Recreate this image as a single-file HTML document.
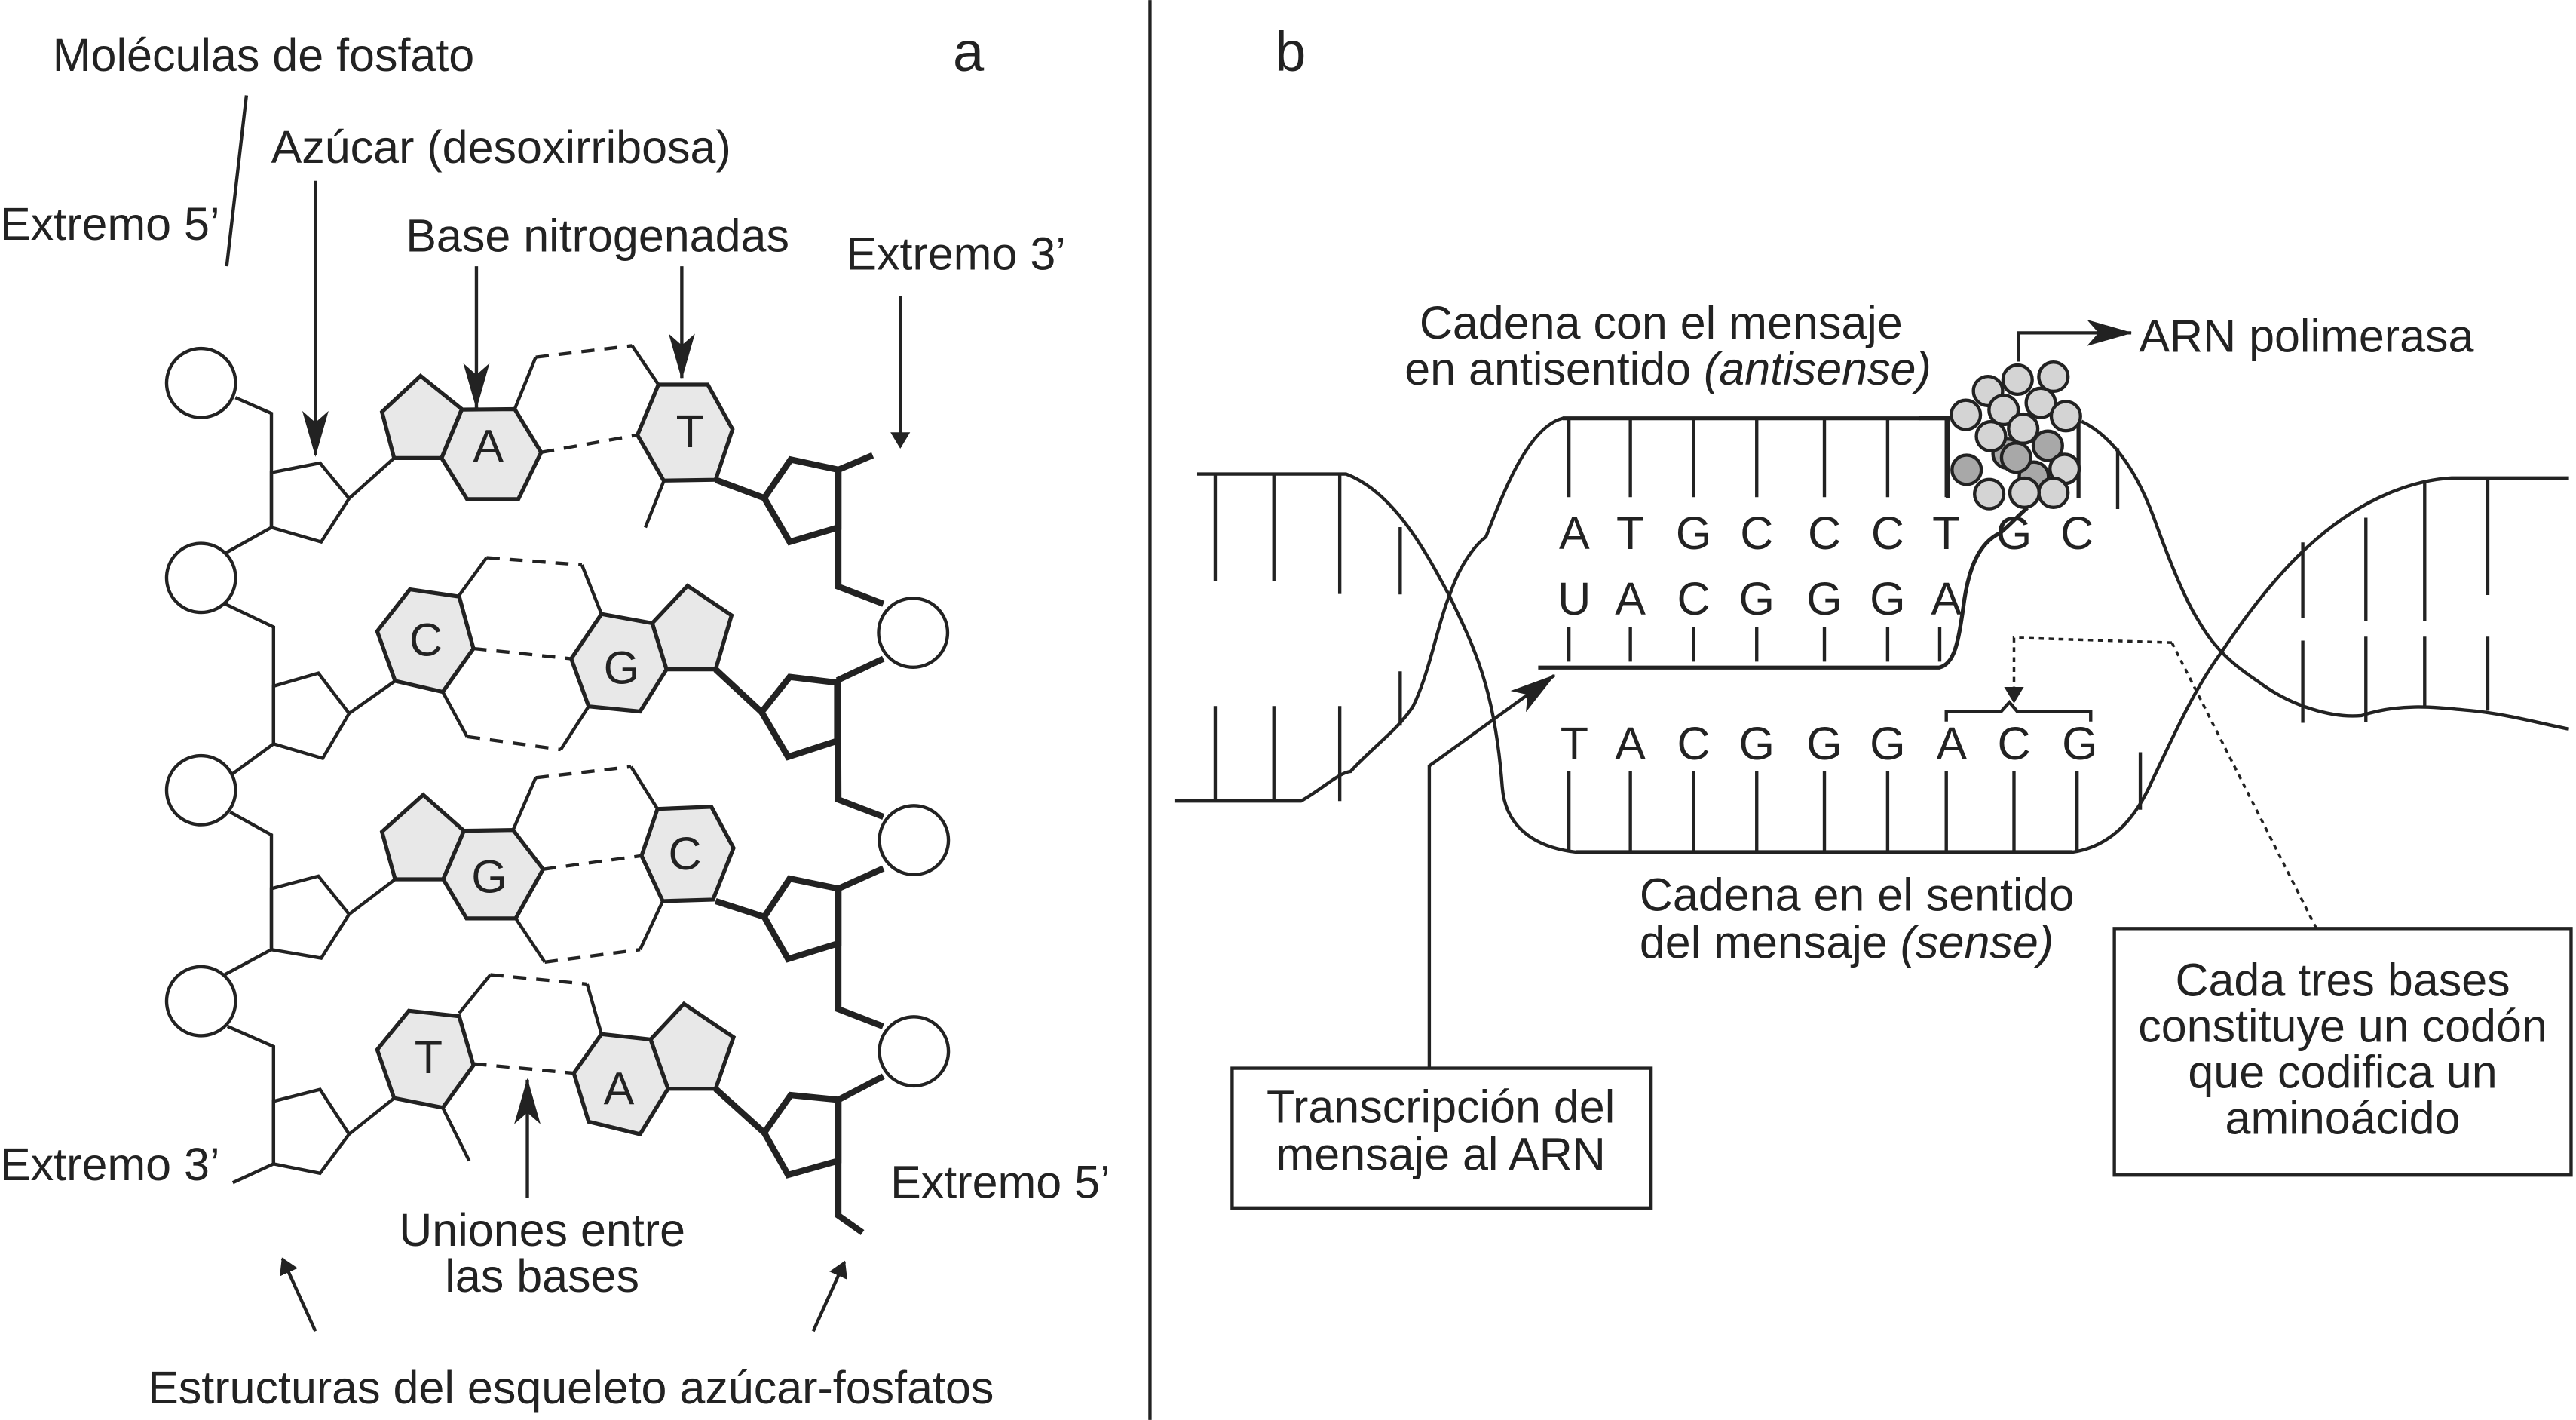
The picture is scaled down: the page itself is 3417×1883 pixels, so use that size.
<!DOCTYPE html>
<html><head><meta charset="utf-8"><style>
html,body{margin:0;padding:0;background:#fff;}
svg{display:block;}
text{font-family:"Liberation Sans",Arial,sans-serif;font-size:28px;fill:#222;}
</style></head><body>
<svg width="3417" height="1883" viewBox="0 0 1568 864" xmlns="http://www.w3.org/2000/svg">
<defs>
<marker id="ah" markerWidth="10" markerHeight="12" refX="9" refY="6" orient="auto" markerUnits="userSpaceOnUse" viewBox="0 0 10 12"><path d="M0,0 L10,6 L0,12 z" fill="#222"/></marker>
<marker id="ahb" markerWidth="28" markerHeight="16" refX="27" refY="8" orient="auto" markerUnits="userSpaceOnUse" viewBox="0 0 28 16"><path d="M0,0 L28,8 L0,16 L7,8 z" fill="#222"/></marker>
</defs>
<g stroke="#222" stroke-width="2" fill="none">
<line x1="700" y1="0" x2="700" y2="864"/>
<line x1="150" y1="58" x2="138" y2="162"/>
<line x1="192" y1="110" x2="192" y2="277" marker-end="url(#ahb)"/>
<line x1="290" y1="162" x2="290" y2="248" marker-end="url(#ahb)"/>
<line x1="415" y1="162" x2="415" y2="230" marker-end="url(#ahb)"/>
<line x1="548" y1="180" x2="548" y2="272" marker-end="url(#ah)"/>
<line x1="321" y1="729" x2="321" y2="657" marker-end="url(#ahb)"/>
<line x1="192" y1="810" x2="172" y2="766" marker-end="url(#ah)"/>
<line x1="495" y1="810" x2="514" y2="768" marker-end="url(#ah)"/>
<path d="M143.3,241.9 L165.2,251.5 L165.2,320.9 L136.9,336.7 M136.9,367.4 L166.5,381.5 L166.5,452.6 L140,472 M140.1,494.1 L165.2,508 L165.2,577.8 L136.9,593 M138.5,624.5 L166.5,636.8 L166.5,708.2 L141.7,719.6"/>
<path d="M212.5,303.3 L239.9,278.7 M212.5,434.1 L240.5,414.3 M212.5,556.3 L240.5,535 M212.5,690.1 L239.9,668.2"/>
<polygon points="165.2,287.5 194.8,281.7 212.5,303.3 195.5,329.7 165.2,320.9"/>
<polygon points="166.5,417.5 193.8,409.6 212.5,434.1 196.4,461.4 166.5,452.6"/>
<polygon points="165.2,540.7 193.8,533.1 212.5,556.3 195.5,583 165.2,577.8"/>
<polygon points="166.5,670.1 194.8,662.9 212.5,690.1 194.8,713.9 166.5,708.2"/>
<g stroke-width="3.8">
<path d="M510.3,285.8 L531.2,277 M510.3,285.8 L510.3,356.9 L537.7,367.4 M509.6,414 L537.7,400.8 M510,415 L510.3,486.5 L537.7,497 M510.3,540.7 L537.7,528.4 M510.3,540.7 L510.3,614 L537.5,624.5 M537.7,654.9 L510.3,669.2 L510.3,739.6 L525,750"/>
<path d="M435.6,291.9 L465.2,303 M435.6,407.3 L463.6,433.3 M435.6,548.3 L465.2,557.9 M435.6,662.5 L465.2,689.2"/>
<polygon points="465.2,303 481.3,279.6 510.3,285.8 510.3,320.9 480.7,329.7"/>
<polygon points="463.6,433.3 480.7,411.9 509.6,415.4 509.6,450.8 479.7,460.5"/>
<polygon points="465.2,557.9 480.7,534.6 510.3,540.7 510.3,574 479.7,583.5"/>
<polygon points="465.2,689.2 481.3,666.3 510.3,669.2 510.3,706.3 479.7,714.9"/>
</g>
<path d="M404,292.8 L392.8,320.9 M269.5,674 L285.6,706.3"/>
</g>
<g stroke="#222" stroke-width="2" fill="#fff">
<circle cx="122.4" cy="233" r="21"/><circle cx="122.4" cy="351.6" r="21"/><circle cx="122.4" cy="480.8" r="21"/><circle cx="122.4" cy="609.2" r="21"/>
<circle cx="555.8" cy="385" r="21"/><circle cx="556.3" cy="511.2" r="21"/><circle cx="556.3" cy="639.7" r="21"/>
</g>
<g stroke="#222" stroke-width="2.4" fill="#e8e8e8">
<polygon points="239.9,278.7 232.5,250.6 256,228.7 281.1,248.9 268.8,278.7"/>
<polygon points="281.1,249.2 313.3,248.9 329.4,275.2 315.5,303.7 284.3,303.7 268.8,278.7"/>
<polygon points="400.8,234 430.8,234 445.9,261.2 435.6,291.9 404,292.4 388,264.7"/>
<polygon points="240.5,414.3 229.6,384.1 249.5,358.6 279.5,363 288.2,394.6 269.5,421"/>
<polygon points="397,379.2 418.5,356.4 445.3,374.4 435.6,407.3 405.7,407.3"/>
<polygon points="366.1,373.6 397,379.2 405.7,407.3 389.6,432.9 358.3,429.8 347.7,400.8"/>
<polygon points="240.5,535 232.5,506.1 257.6,483.6 282.4,505.5 269.8,535"/>
<polygon points="282.4,505.5 312.3,505 330.6,528.9 313.9,558.8 284,558.8 269.8,535"/>
<polygon points="400.2,492.2 433,490.9 446.5,516 434,547.4 403.4,548.3 390.5,520.7"/>
<polygon points="406.6,662.5 396,632.5 416.3,610.8 446.5,631.1 435.6,662.5"/>
<polygon points="366.1,629.2 396,632.5 406.6,662.5 389.6,690.1 358.3,682.5 349.3,653"/>
<polygon points="248.9,615 279.5,618.4 288.2,648.2 269.5,674 239.9,668.2 229.6,638.7"/>
</g>
<g stroke="#222" stroke-width="2" fill="none">
<path d="M313.3,248.9 L326.1,217.3 M384.7,210.3 L400.8,234"/><path d="M326.1,217.3 L384.7,210.3 M329.4,275.2 L388,264.7" stroke-dasharray="8,6"/>
<path d="M279.5,362.2 L296.2,339.3 M354.2,343.7 L366.1,373.6 M269.5,421 L284.3,448.2 M341.3,456.1 L358.3,429.8"/>
<path d="M296.2,339.3 L354.2,343.7 M288.2,394.6 L347.7,400.8 M284.3,448.2 L341.3,456.1" stroke-dasharray="8,6"/>
<path d="M312.3,505 L326.1,473.2 M384.1,466.5 L400.2,492.2 M313.9,558.8 L331.6,585.4 M389.6,577.8 L403.4,548.3"/>
<path d="M326.1,473.2 L384.1,466.5 M330.6,528.9 L390.5,520.7 M331.6,585.4 L389.6,577.8" stroke-dasharray="8,6"/>
<path d="M279.5,616.5 L298.5,593.1 M357.4,598.8 L366.1,629.2"/>
<path d="M298.5,593.1 L357.4,598.8 M288.2,647.3 L349.3,653" stroke-dasharray="8,6"/>
</g>
<g text-anchor="middle" style="font-size:26px">
<text x="297.2" y="281">A</text><text x="420" y="272">T</text><text x="259.2" y="399">C</text><text x="378.3" y="416">G</text><text x="297.8" y="543">G</text><text x="416.9" y="529">C</text><text x="260.8" y="653">T</text><text x="376.7" y="672">A</text>
</g>
<text x="32" y="43">Moléculas de fosfato</text>
<text x="580" y="43" style="font-size:34px">a</text>
<text x="776" y="43" style="font-size:34px">b</text>
<text x="165" y="99">Azúcar (desoxirribosa)</text>
<text x="0" y="146">Extremo 5’</text>
<text x="247" y="153">Base nitrogenadas</text>
<text x="515" y="164">Extremo 3’</text>
<text x="0" y="718">Extremo 3’</text>
<text x="542" y="729">Extremo 5’</text>
<text x="330" y="758" text-anchor="middle">Uniones entre</text>
<text x="330" y="786" text-anchor="middle">las bases</text>
<text x="90" y="854">Estructuras del esqueleto azúcar-fosfatos</text>
<g stroke="#222" stroke-width="2" fill="none">
<path d="M728.7,288.4 L819.3,288.4 C850,300 870,340 882,362 C898,395 910,420 914.4,478.7 C916,500 930,515 959.4,518.5 L1261.6,518.5 C1285,515 1300,498 1310,475 C1322,450 1335,420 1352.2,396.8 C1370,370 1390,345 1410,328 C1440,302 1470,292 1492.3,290.8 L1563.7,290.8"/>
<path d="M714.9,487.4 L791.9,487.4 C805,480 815,470 822.1,469.4 C835,455 850,445 860,430 C870,410 875,380 882.5,361.7 C890,340 900,330 904.5,326.6 C915,300 930,260 951.2,254.5 L1187,254.5"/>
<path d="M1267,256.3 C1285,265 1300,285 1311,314.9 C1320,340 1330,365 1338.5,378.1 C1348,395 1360,405 1375,415 C1395,430 1420,437 1437.4,435.4 C1460,428 1480,430 1500,432 C1525,434 1545,440 1563.7,443.6"/>
<path d="M739.7,288.4 v65 M775.4,288.4 v65 M815.5,288.4 v73 M852.3,320.7 v41 M739.7,429.6 v57.8 M775.4,429.6 v57.8 M815.5,429.6 v57.8 M852.3,408.5 v33"/>
<path d="M955,254.5 v48 M992.4,254.5 v48 M1030.9,254.5 v48 M1069.3,254.5 v48 M1110.5,254.5 v48 M1149,254.5 v48 M1184.7,254.5 v48 M1289,272.7 v37"/>
<path d="M955,381.6 v21 M992.4,381.6 v21 M1030.9,381.6 v21 M1069.3,381.6 v21 M1110.5,381.6 v21 M1149,381.6 v21 M1180.7,381.6 v21"/>
<path d="M955,469.4 v49 M992.4,469.4 v49 M1030.9,469.4 v49 M1069.3,469.4 v49 M1110.5,469.4 v49 M1149,469.4 v49 M1184.7,469.4 v49 M1225.9,469.4 v49 M1264.3,469.4 v49 M1302.8,457.7 v35"/>
<path d="M1401.7,330 v46 M1440.1,315 v63 M1475.9,292.6 v85 M1514.3,291 v71 M1401.7,389.8 v50 M1440.1,387.4 v52 M1475.9,387.4 v42 M1514.3,387.4 v45"/>
<path d="M936.3,406.2 L1180.3,406.2 C1190,404 1192,390 1195,370 C1198,345 1205,330 1217.6,324.2 C1225,318 1230,312 1234.1,309" stroke-width="2.4"/>
<path d="M951.2,254.5 L1187,254.5" stroke-width="2.4"/>
<path d="M959.4,518.5 L1261.6,518.5" stroke-width="2.4"/>
<path d="M1184.7,439 L1184.7,433 L1218,433 L1223.1,427.3 L1228,433 L1272.6,433 L1272.6,439"/>
<path d="M1228.6,220 L1228.6,202.5 L1297.3,202.5" marker-end="url(#ahb)"/>
<path d="M870,650 L870,466 L946,411" marker-end="url(#ahb)"/>
<path d="M1322,391 L1225.9,388 L1225.9,427" stroke-dasharray="3,3" stroke-width="1.6" marker-end="url(#ah)"/>
<path d="M1322,391 L1410,565" stroke-dasharray="3,3" stroke-width="1.6"/>
<rect x="750" y="650" width="255" height="85"/>
<rect x="1287" y="565" width="278" height="150"/>
<path d="M1168,254.4 L1187,254.4 M1185.6,254.7 V302.9 M1265.2,257 V302.9" stroke-width="2.4"/>
</g>
<g stroke="#222" stroke-width="2">
<circle cx="1222" cy="276" r="8.9" fill="#a8a8a8"/><circle cx="1238" cy="290" r="8.9" fill="#a8a8a8"/>
<circle cx="1228.1" cy="231" r="8.9" fill="#d4d4d4"/><circle cx="1249.9" cy="229.2" r="8.9" fill="#d4d4d4"/><circle cx="1210.1" cy="237.9" r="8.9" fill="#d4d4d4"/><circle cx="1242.2" cy="245.1" r="8.9" fill="#d4d4d4"/><circle cx="1219.6" cy="249.4" r="8.9" fill="#d4d4d4"/><circle cx="1196.6" cy="252.4" r="8.9" fill="#d4d4d4"/><circle cx="1257.5" cy="253.2" r="8.9" fill="#d4d4d4"/><circle cx="1231.5" cy="260.8" r="8.9" fill="#d4d4d4"/><circle cx="1211.9" cy="265.4" r="8.9" fill="#d4d4d4"/>
<circle cx="1246.5" cy="271.2" r="8.9" fill="#a8a8a8"/><circle cx="1227.2" cy="278.4" r="8.9" fill="#a8a8a8"/><circle cx="1197.1" cy="285.8" r="8.9" fill="#a8a8a8"/><circle cx="1256.7" cy="285.3" r="8.9" fill="#d4d4d4"/>
<circle cx="1249.9" cy="299.8" r="8.9" fill="#d4d4d4"/><circle cx="1210.8" cy="300.6" r="8.9" fill="#d4d4d4"/><circle cx="1232.3" cy="299.8" r="8.9" fill="#d4d4d4"/>
</g>
<g text-anchor="middle" style="font-size:26px">
<text x="958.3" y="334">A</text><text x="992.4" y="334">T</text><text x="1030.9" y="334">G</text><text x="1069.3" y="334">C</text><text x="1110.5" y="334">C</text><text x="1149" y="334">C</text><text x="1184.7" y="334">T</text><text x="1225.9" y="334">G</text><text x="1264.3" y="334">C</text>
<text x="958.3" y="374">U</text><text x="992.4" y="374">A</text><text x="1030.9" y="374">C</text><text x="1069.3" y="374">G</text><text x="1110.5" y="374">G</text><text x="1149" y="374">G</text><text x="1184.7" y="374">A</text>
<text x="958.3" y="462">T</text><text x="992.4" y="462">A</text><text x="1030.9" y="462">C</text><text x="1069.3" y="462">G</text><text x="1110.5" y="462">G</text><text x="1149" y="462">G</text><text x="1188" y="462">A</text><text x="1225.9" y="462">C</text><text x="1266" y="462">G</text>
</g>
<g text-anchor="middle">
<text x="877" y="683">Transcripción del</text><text x="877" y="712">mensaje al ARN</text>
<text x="1426" y="606">Cada tres bases</text><text x="1426" y="634">constituye un codón</text><text x="1426" y="662">que codifica un</text><text x="1426" y="690">aminoácido</text>
</g>
<text x="864" y="206">Cadena con el  mensaje</text>
<text x="855" y="234">en antisentido <tspan font-style="italic">(antisense)</tspan></text>
<text x="1302" y="214">ARN polimerasa</text>
<text x="998" y="554">Cadena en el sentido</text>
<text x="998" y="583">del mensaje <tspan font-style="italic">(sense)</tspan></text>
</svg>
</body></html>
